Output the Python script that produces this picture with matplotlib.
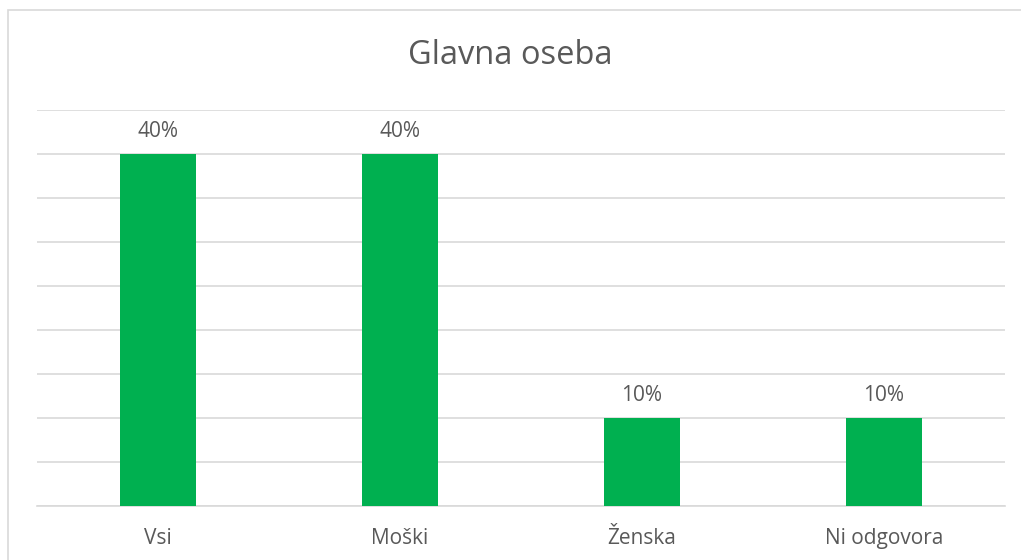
import matplotlib.pyplot as plt
from matplotlib.patches import Rectangle

plt.rcParams['font.family'] = ['Open Sans', 'DejaVu Sans']

categories = ['Vsi', 'Moški', 'Ženska', 'Ni odgovora']
values = [40, 40, 10, 10]
labels = ['40%', '40%', '10%', '10%']

text_color = '#595959'
grid_color = '#d9d9d9'
bar_color = '#00b050'

fig = plt.figure(figsize=(10.21, 5.6), dpi=100)
ax = fig.add_axes([37 / 1021, 1 - 506 / 560, (1005 - 37) / 1021, (506 - 110) / 560])

x = range(len(categories))
ax.bar(x, values, width=0.314, color=bar_color, zorder=3)

for xi, v, lab in zip(x, values, labels):
    ax.annotate(lab, (xi, v), xytext=(0, 16.5), textcoords='offset points',
                ha='center', va='center', fontsize=15, color=text_color)

ax.set_xlim(-0.5, len(categories) - 0.5)
ax.set_ylim(0, 45)
ax.set_yticks(range(0, 46, 5))
ax.yaxis.grid(True, color=grid_color, linewidth=1.2, zorder=0)
ax.set_yticklabels([])
ax.tick_params(axis='y', length=0)
ax.set_xticks(list(x))
ax.set_xticklabels(categories, fontsize=15, color=text_color)
ax.tick_params(axis='x', length=0, pad=16)
for s in ['top', 'right', 'left']:
    ax.spines[s].set_visible(False)
ax.spines['bottom'].set_color(grid_color)
ax.spines['bottom'].set_linewidth(1.2)

fig.text(0.5, 1 - 55 / 560, 'Glavna oseba', ha='center', va='center',
         fontsize=23.5, color=text_color)

fig.patches.append(Rectangle((8 / 1021, -0.05), 1.1, 1 - 10 / 560 + 0.05,
                             transform=fig.transFigure, fill=False,
                             edgecolor=grid_color, linewidth=1.2))

fig.savefig('out.png', dpi=100)
